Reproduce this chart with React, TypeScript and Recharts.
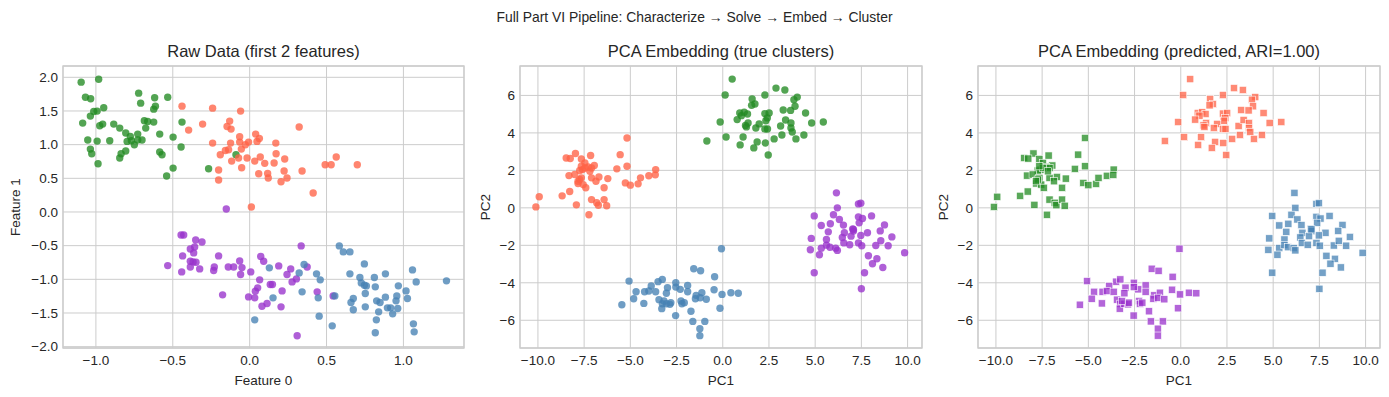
import { ScatterChart, Scatter, XAxis, YAxis, CartesianGrid, ReferenceArea } from 'recharts';

// raw data, first two features, by true cluster
const rawGreen = [
  { x: -1.096, y: 1.928 }, { x: -0.982, y: 1.972 }, { x: -1.068, y: 1.705 }, { x: -1.034, y: 1.681 },
  { x: -0.722, y: 1.765 }, { x: -0.709, y: 1.616 }, { x: -0.618, y: 1.696 }, { x: -0.533, y: 1.705 },
  { x: -0.949, y: 1.547 }, { x: -1.014, y: 1.493 }, { x: -0.992, y: 1.498 }, { x: -1.036, y: 1.424 },
  { x: -0.624, y: 1.527 }, { x: -0.613, y: 1.572 }, { x: -1.086, y: 1.32 }, { x: -0.975, y: 1.28 },
  { x: -0.956, y: 1.305 }, { x: -0.884, y: 1.305 }, { x: -0.845, y: 1.246 }, { x: -0.685, y: 1.354 },
  { x: -0.663, y: 1.345 }, { x: -0.624, y: 1.335 }, { x: -0.676, y: 1.246 }, { x: -0.44, y: 1.335 },
  { x: -0.806, y: 1.172 }, { x: -0.776, y: 1.122 }, { x: -0.728, y: 1.157 }, { x: -0.585, y: 1.157 },
  { x: -0.498, y: 1.112 }, { x: -1.053, y: 1.068 }, { x: -0.992, y: 1.053 }, { x: -0.91, y: 1.058 },
  { x: -0.797, y: 1.048 }, { x: -0.769, y: 1.058 }, { x: -0.75, y: 0.999 }, { x: -0.728, y: 1.068 },
  { x: -0.7, y: 1.068 }, { x: -0.446, y: 0.964 }, { x: -1.036, y: 0.934 }, { x: -1.027, y: 0.865 },
  { x: -0.806, y: 0.905 }, { x: -0.836, y: 0.865 }, { x: -0.845, y: 0.801 }, { x: -0.986, y: 0.717 },
  { x: -0.585, y: 0.89 }, { x: -0.57, y: 0.85 }, { x: -0.498, y: 0.652 }, { x: -0.54, y: 0.534 },
  { x: -0.267, y: 0.643 }, { x: -0.089, y: 0.85 },
];

const rawOrange = [
  { x: -0.44, y: 1.572 }, { x: -0.241, y: 1.542 }, { x: -0.059, y: 1.498 }, { x: -0.13, y: 1.35 },
  { x: -0.397, y: 1.216 }, { x: -0.306, y: 1.305 }, { x: -0.147, y: 1.27 }, { x: -0.121, y: 1.231 },
  { x: -0.241, y: 1.023 }, { x: -0.065, y: 1.117 }, { x: 0.039, y: 1.157 }, { x: -0.124, y: 1.023 },
  { x: -0.158, y: 0.914 }, { x: -0.137, y: 0.924 }, { x: -0.065, y: 1.038 }, { x: -0.054, y: 0.934 },
  { x: -0.007, y: 1.038 }, { x: -0.028, y: 0.999 }, { x: -0.191, y: 0.85 }, { x: 0.033, y: 0.756 },
  { x: 0.069, y: 0.816 }, { x: 0.098, y: 0.722 }, { x: -0.117, y: 0.756 }, { x: -0.072, y: 0.801 },
  { x: -0.017, y: 0.801 }, { x: -0.052, y: 0.657 }, { x: 0.059, y: 0.568 }, { x: 0.117, y: 0.573 },
  { x: -0.202, y: 0.623 }, { x: -0.202, y: 0.475 }, { x: 0.011, y: 0.074 }, { x: 0.121, y: 0.504 },
  { x: 0.048, y: 1.048 }, { x: 0.063, y: 1.092 }, { x: 0.322, y: 1.261 }, { x: 0.17, y: 1.023 },
  { x: 0.172, y: 0.865 }, { x: 0.159, y: 0.727 }, { x: 0.228, y: 0.786 }, { x: 0.491, y: 0.702 },
  { x: 0.53, y: 0.702 }, { x: 0.563, y: 0.816 }, { x: 0.7, y: 0.702 }, { x: 0.341, y: 0.608 },
  { x: 0.224, y: 0.608 }, { x: 0.204, y: 0.45 }, { x: 0.243, y: 0.504 }, { x: 0.413, y: 0.282 },
];

const rawPurple = [
  { x: -0.152, y: 0.044 }, { x: -0.446, y: -0.341 }, { x: -0.429, y: -0.341 }, { x: -0.351, y: -0.415 },
  { x: -0.31, y: -0.445 }, { x: -0.386, y: -0.549 }, { x: -0.358, y: -0.519 }, { x: -0.364, y: -0.608 },
  { x: -0.436, y: -0.652 }, { x: -0.386, y: -0.732 }, { x: -0.368, y: -0.741 }, { x: -0.349, y: -0.746 },
  { x: -0.202, y: -0.652 }, { x: -0.533, y: -0.796 }, { x: -0.442, y: -0.89 }, { x: -0.386, y: -0.816 },
  { x: -0.325, y: -0.845 }, { x: -0.23, y: -0.816 }, { x: -0.234, y: -0.87 }, { x: -0.139, y: -0.816 },
  { x: -0.104, y: -0.816 }, { x: -0.065, y: -0.727 }, { x: -0.05, y: -0.826 }, { x: -0.059, y: -0.929 },
  { x: 0.007, y: -0.89 }, { x: 0.072, y: -0.662 }, { x: 0.091, y: -0.732 }, { x: 0.065, y: -1.008 },
  { x: 0.052, y: -1.127 }, { x: 0.037, y: -1.176 }, { x: 0.033, y: -1.275 }, { x: -0.007, y: -1.261 },
  { x: -0.176, y: -1.231 }, { x: 0.08, y: -1.399 }, { x: 0.113, y: -1.359 }, { x: 0.134, y: -1.078 },
  { x: 0.335, y: -0.504 }, { x: 0.189, y: -0.801 }, { x: 0.267, y: -0.845 }, { x: 0.243, y: -0.929 },
  { x: 0.374, y: -0.816 }, { x: 0.276, y: -1.038 }, { x: 0.304, y: -0.994 }, { x: 0.148, y: -1.078 },
  { x: 0.211, y: -1.172 }, { x: 0.204, y: -1.409 }, { x: 0.309, y: -1.839 }, { x: 0.439, y: -1.186 },
  { x: 0.543, y: -1.246 },
];

const rawBlue = [
  { x: 0.128, y: -0.83 }, { x: 0.033, y: -1.602 }, { x: 0.583, y: -0.504 }, { x: 0.609, y: -0.593 },
  { x: 0.652, y: -0.593 }, { x: 0.746, y: -0.771 }, { x: 0.354, y: -0.781 }, { x: 0.322, y: -0.905 },
  { x: 0.435, y: -0.919 }, { x: 0.459, y: -1.008 }, { x: 0.652, y: -0.919 }, { x: 0.717, y: -0.974 },
  { x: 0.726, y: -1.053 }, { x: 0.746, y: -1.088 }, { x: 0.759, y: -1.098 }, { x: 0.811, y: -0.974 },
  { x: 0.883, y: -0.919 }, { x: 0.817, y: -1.112 }, { x: 0.967, y: -1.097 }, { x: 1.059, y: -0.86 },
  { x: 1.083, y: -1.038 }, { x: 1.28, y: -1.023 }, { x: 0.341, y: -1.186 }, { x: 0.446, y: -1.275 },
  { x: 0.554, y: -1.246 }, { x: 0.674, y: -1.285 }, { x: 0.659, y: -1.345 }, { x: 0.674, y: -1.453 },
  { x: 0.752, y: -1.211 }, { x: 0.752, y: -1.409 }, { x: 0.826, y: -1.32 }, { x: 0.848, y: -1.345 },
  { x: 0.883, y: -1.265 }, { x: 0.957, y: -1.246 }, { x: 1.017, y: -1.172 }, { x: 1.026, y: -1.285 },
  { x: 0.839, y: -1.483 }, { x: 0.896, y: -1.424 }, { x: 0.917, y: -1.424 }, { x: 0.93, y: -1.513 },
  { x: 0.963, y: -1.434 }, { x: 0.952, y: -1.32 }, { x: 0.452, y: -1.547 }, { x: 0.537, y: -1.691 },
  { x: 0.824, y: -1.602 }, { x: 1.065, y: -1.661 }, { x: 1.07, y: -1.78 }, { x: 0.817, y: -1.794 },
  { x: 0.152, y: -1.275 },
];

// PCA embedding, grouped by location: left / top / bottom / right
const pcaLeft = [
  { x: -5.18, y: 3.73 }, { x: -5.55, y: 2.84 }, { x: -7.97, y: 2.9 }, { x: -8.47, y: 2.66 },
  { x: -8.25, y: 2.63 }, { x: -7.15, y: 2.79 }, { x: -7.65, y: 2.61 }, { x: -7.46, y: 2.4 },
  { x: -6.95, y: 2.26 }, { x: -7.28, y: 2.18 }, { x: -7.1, y: 2.13 }, { x: -7.59, y: 2.04 },
  { x: -7.74, y: 1.99 }, { x: -5.73, y: 2.08 }, { x: -5.18, y: 2.22 }, { x: -3.63, y: 2.04 },
  { x: -8.32, y: 1.72 }, { x: -8.01, y: 1.78 }, { x: -7.65, y: 1.6 }, { x: -7.1, y: 1.6 },
  { x: -6.7, y: 1.65 }, { x: -6.22, y: 1.56 }, { x: -6.86, y: 1.42 }, { x: -7.83, y: 1.3 },
  { x: -7.55, y: 1.24 }, { x: -7.41, y: 1.07 }, { x: -6.42, y: 1.07 }, { x: -5.27, y: 1.33 },
  { x: -5.0, y: 1.21 }, { x: -4.58, y: 1.28 }, { x: -4.45, y: 1.6 }, { x: -4.0, y: 1.71 },
  { x: -3.65, y: 1.76 }, { x: -8.69, y: 0.64 }, { x: -8.28, y: 0.87 }, { x: -9.93, y: 0.59 },
  { x: -10.11, y: 0.05 }, { x: -7.92, y: 0.16 }, { x: -7.1, y: 0.44 }, { x: -6.82, y: 0.27 },
  { x: -6.73, y: 0.14 }, { x: -6.42, y: 0.44 }, { x: -6.28, y: 0.11 }, { x: -7.24, y: -0.37 },
  { x: -7.74, y: 1.51 }, { x: -7.46, y: 2.13 }, { x: -7.19, y: 1.95 }, { x: -7.65, y: 2.22 },
  { x: -7.83, y: 1.42 },
];

const pcaTop = [
  { x: 0.51, y: 6.87 }, { x: 0.13, y: 6.02 }, { x: 2.88, y: 6.39 }, { x: 3.36, y: 6.29 },
  { x: 1.59, y: 5.81 }, { x: 2.28, y: 6.02 }, { x: 4.03, y: 5.91 }, { x: 3.85, y: 5.77 },
  { x: 1.74, y: 5.54 }, { x: 1.56, y: 5.47 }, { x: 3.91, y: 5.42 }, { x: 3.27, y: 5.22 },
  { x: 3.67, y: 5.2 }, { x: 4.48, y: 5.06 }, { x: 0.92, y: 5.06 }, { x: 1.16, y: 5.1 },
  { x: 1.34, y: 5.01 }, { x: 1.01, y: 4.92 }, { x: 2.28, y: 5.03 }, { x: 2.51, y: 5.06 },
  { x: 2.41, y: 4.8 }, { x: 2.33, y: 4.65 }, { x: 0.78, y: 4.71 }, { x: -0.14, y: 4.58 },
  { x: 1.97, y: 4.48 }, { x: 1.37, y: 4.53 }, { x: 1.23, y: 4.4 }, { x: 1.28, y: 4.32 },
  { x: 1.79, y: 4.26 }, { x: 2.28, y: 4.21 }, { x: 2.42, y: 4.21 }, { x: 3.13, y: 4.37 },
  { x: 3.4, y: 4.69 }, { x: 3.69, y: 4.53 }, { x: 3.69, y: 4.26 }, { x: 3.76, y: 4.05 },
  { x: 4.81, y: 4.53 }, { x: 5.44, y: 4.58 }, { x: 0.18, y: 3.78 }, { x: 1.1, y: 3.78 },
  { x: 0.94, y: 3.36 }, { x: 1.86, y: 3.52 }, { x: 1.68, y: 3.2 }, { x: 2.3, y: 3.46 },
  { x: 2.78, y: 3.68 }, { x: 3.2, y: 3.89 }, { x: 3.96, y: 3.68 }, { x: 4.39, y: 3.89 },
  { x: 2.46, y: 2.82 }, { x: -0.86, y: 3.57 },
];

const pcaBottom = [
  { x: -0.07, y: -2.18 }, { x: -1.57, y: -3.25 }, { x: -1.2, y: -3.36 }, { x: -0.44, y: -3.68 },
  { x: -5.07, y: -3.91 }, { x: -3.5, y: -3.94 }, { x: -3.27, y: -3.82 }, { x: -2.54, y: -4.0 },
  { x: -1.9, y: -4.14 }, { x: -3.87, y: -4.17 }, { x: -4.69, y: -4.48 }, { x: -4.23, y: -4.48 },
  { x: -4.0, y: -4.44 }, { x: -3.63, y: -4.48 }, { x: -2.99, y: -4.26 }, { x: -3.05, y: -4.56 },
  { x: -2.3, y: -4.35 }, { x: -1.9, y: -4.48 }, { x: -2.54, y: -4.23 }, { x: -0.47, y: -4.37 },
  { x: -1.44, y: -4.67 }, { x: -1.13, y: -4.53 }, { x: -1.48, y: -4.85 }, { x: -1.22, y: -4.8 },
  { x: -0.89, y: -4.88 }, { x: -0.04, y: -4.62 }, { x: -4.82, y: -4.85 }, { x: -4.27, y: -5.1 },
  { x: -5.46, y: -5.17 }, { x: -3.45, y: -4.9 }, { x: -3.27, y: -5.12 }, { x: -3.3, y: -5.38 },
  { x: -3.05, y: -5.12 }, { x: -2.86, y: -5.15 }, { x: -2.81, y: -5.06 }, { x: -2.26, y: -4.97 },
  { x: -2.21, y: -5.12 }, { x: -2.08, y: -5.06 }, { x: -1.72, y: -5.52 }, { x: -2.55, y: -5.75 },
  { x: -1.62, y: -6.06 }, { x: -0.97, y: -6.06 }, { x: -1.24, y: -6.45 }, { x: -1.24, y: -6.82 },
  { x: -0.15, y: -5.36 }, { x: 0.44, y: -4.53 }, { x: 0.84, y: -4.56 }, { x: -3.18, y: -4.97 },
];

const pcaRight = [
  { x: 6.15, y: 0.8 }, { x: 6.2, y: 0.0 }, { x: 7.34, y: 0.21 }, { x: 7.47, y: 0.25 },
  { x: 4.95, y: -0.43 }, { x: 5.99, y: -0.37 }, { x: 6.31, y: -0.62 }, { x: 7.34, y: -0.48 },
  { x: 7.56, y: -0.57 }, { x: 8.05, y: -0.43 }, { x: 5.33, y: -0.94 }, { x: 5.82, y: -0.85 },
  { x: 6.53, y: -0.92 }, { x: 5.71, y: -1.28 }, { x: 6.58, y: -1.33 }, { x: 7.03, y: -1.12 },
  { x: 7.07, y: -1.24 }, { x: 7.38, y: -0.8 }, { x: 8.75, y: -0.91 }, { x: 8.52, y: -1.23 },
  { x: 7.83, y: -1.33 }, { x: 7.47, y: -1.47 }, { x: 6.47, y: -1.58 }, { x: 6.94, y: -1.51 },
  { x: 4.79, y: -1.63 }, { x: 5.61, y: -1.69 }, { x: 9.15, y: -1.55 }, { x: 4.74, y: -2.24 },
  { x: 5.33, y: -2.15 }, { x: 5.61, y: -1.99 }, { x: 5.8, y: -2.1 }, { x: 6.11, y: -2.15 },
  { x: 6.2, y: -2.27 }, { x: 6.55, y: -1.87 }, { x: 6.87, y: -1.97 }, { x: 7.34, y: -1.87 },
  { x: 7.52, y: -2.02 }, { x: 8.28, y: -2.01 }, { x: 8.55, y: -1.76 }, { x: 8.95, y: -2.02 },
  { x: 5.23, y: -2.5 }, { x: 7.88, y: -2.56 }, { x: 8.34, y: -2.72 }, { x: 8.1, y: -2.98 },
  { x: 8.66, y: -3.18 }, { x: 4.95, y: -3.46 }, { x: 7.67, y: -3.46 }, { x: 7.5, y: -4.32 },
  { x: 9.84, y: -2.4 }, { x: 7.07, y: -1.15 },
];

const rawXTicks = [-1.0, -0.5, 0.0, 0.5, 1.0];
const rawYTicks = [-2.0, -1.5, -1.0, -0.5, 0.0, 0.5, 1.0, 1.5, 2.0];
const pcXTicks = [-10, -7.5, -5, -2.5, 0, 2.5, 5, 7.5, 10];
const pcYTicks = [-6, -4, -2, 0, 2, 4, 6];

const GREEN = '#228B22';
const TOMATO = '#FF6347';
const ORCHID = '#9932CC';
const STEEL = '#4682B4';
const INK = '#262626';
const GRID = '#cccccc';

const minus = (s: string) => s.replace('-', '\u2212');
const fmt1 = (v: number) => minus(v.toFixed(1));
const fmt0 = (v: number) => minus(String(v));

const PLOT_TOP = 66;
const PLOT_H = 282;
const TOP_PAD = 30;
const X_AXIS_H = 45;

function marker(color: string, square: boolean) {
  return (p: any) =>
    square ? (
      <rect x={p.cx - 3.6} y={p.cy - 3.6} width={7.2} height={7.2} fill={color} fillOpacity={0.75} stroke="#ffffff" strokeWidth={0.6} />
    ) : (
      <circle cx={p.cx} cy={p.cy} r={3.7} fill={color} fillOpacity={0.78} />
    );
}

type Series = { data: { x: number; y: number }[]; color: string };

function Panel(props: {
  plotLeft: number; plotW: number; yLabelX: number; title: string;
  xDomain: [number, number]; yDomain: [number, number];
  xTicks: number[]; yTicks: number[]; xFmt: (v: number) => string; yFmt: (v: number) => string;
  xLabel: string; yLabel: string; series: Series[]; square: boolean;
}) {
  const yw = 2 * (props.plotLeft - props.yLabelX);
  const w = yw + props.plotW + 6;
  const h = TOP_PAD + PLOT_H + X_AXIS_H + 4;
  return (
    <>
      <div style={{ position: 'absolute', left: props.plotLeft, top: 43, width: props.plotW, textAlign: 'center', fontSize: 16.5, lineHeight: '16.5px', color: INK }}>
        {props.title}
      </div>
      <div style={{ position: 'absolute', left: props.plotLeft - yw, top: PLOT_TOP - TOP_PAD }}>
        <ScatterChart width={w} height={h} margin={{ top: TOP_PAD, right: 6, bottom: 4, left: 0 }}>
          <CartesianGrid stroke={GRID} strokeWidth={1} />
          <XAxis type="number" dataKey="x" domain={props.xDomain} allowDataOverflow ticks={props.xTicks} tickFormatter={props.xFmt}
            tickLine={false} axisLine={false} tickSize={5} tickMargin={2.5} height={X_AXIS_H} interval={0}
            tick={{ fill: INK, fontSize: 13.5 }}
            label={{ value: props.xLabel, position: 'insideBottom', offset: 8, fill: INK, fontSize: 13.5 }} />
          <YAxis type="number" dataKey="y" domain={props.yDomain} allowDataOverflow ticks={props.yTicks} tickFormatter={props.yFmt}
            tickLine={false} axisLine={false} tickSize={3} tickMargin={2} width={yw} interval={0}
            tick={{ fill: INK, fontSize: 13.5 }}
            label={{ value: props.yLabel, position: 'center', angle: -90, fill: INK, fontSize: 13.5 }} />
          {props.series.map((s, i) => (
            <Scatter key={i} data={s.data} isAnimationActive={false} shape={marker(s.color, props.square)} />
          ))}
          <ReferenceArea x1={props.xDomain[0]} x2={props.xDomain[1]} y1={props.yDomain[0]} y2={props.yDomain[1]}
            fill="#ffffff" fillOpacity={0} stroke={GRID} strokeWidth={1.3} ifOverflow="visible" />
        </ScatterChart>
      </div>
    </>
  );
}

export default function App() {
  const pcX: [number, number] = [-10.97, 10.78];
  const pcY: [number, number] = [-7.48, 7.57];
  return (
    <div style={{ position: 'absolute', left: 0, top: 0, width: 1389, height: 397, background: '#ffffff', overflow: 'hidden', fontFamily: '"Liberation Sans", Arial, sans-serif' }}>
      <div style={{ position: 'absolute', left: 0, top: 10.5, width: 1389, textAlign: 'center', fontSize: 13.9, lineHeight: '13.9px', color: INK }}>
        Full Part VI Pipeline: Characterize → Solve → Embed → Cluster
      </div>
      <Panel plotLeft={63} plotW={401} yLabelX={15} title="Raw Data (first 2 features)"
        xDomain={[-1.214, 1.394]} yDomain={[-2.02, 2.168]} xTicks={rawXTicks} yTicks={rawYTicks}
        xFmt={fmt1} yFmt={fmt1} xLabel="Feature 0" yLabel="Feature 1" square={false}
        series={[
          { data: rawGreen, color: GREEN },
          { data: rawOrange, color: TOMATO },
          { data: rawPurple, color: ORCHID },
          { data: rawBlue, color: STEEL },
        ]} />
      <Panel plotLeft={520} plotW={402} yLabelX={485} title="PCA Embedding (true clusters)"
        xDomain={pcX} yDomain={pcY} xTicks={pcXTicks} yTicks={pcYTicks}
        xFmt={fmt1} yFmt={fmt0} xLabel="PC1" yLabel="PC2" square={false}
        series={[
          { data: pcaTop, color: GREEN },
          { data: pcaLeft, color: TOMATO },
          { data: pcaRight, color: ORCHID },
          { data: pcaBottom, color: STEEL },
        ]} />
      <Panel plotLeft={978} plotW={402} yLabelX={943} title="PCA Embedding (predicted, ARI=1.00)"
        xDomain={pcX} yDomain={pcY} xTicks={pcXTicks} yTicks={pcYTicks}
        xFmt={fmt1} yFmt={fmt0} xLabel="PC1" yLabel="PC2" square={true}
        series={[
          { data: pcaLeft, color: GREEN },
          { data: pcaTop, color: TOMATO },
          { data: pcaBottom, color: ORCHID },
          { data: pcaRight, color: STEEL },
        ]} />
    </div>
  );
}
